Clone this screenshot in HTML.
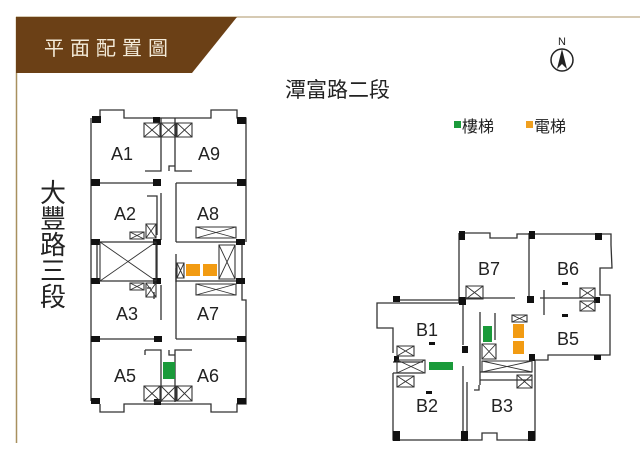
<!DOCTYPE html>
<html><head><meta charset="utf-8"><style>
html,body{margin:0;padding:0;background:#fff;}
svg{display:block;}
text{font-family:"Liberation Sans","Noto Sans CJK TC",sans-serif;}
</style></head><body>
<svg width="640" height="463" viewBox="0 0 640 463" xmlns="http://www.w3.org/2000/svg">
<defs>
<g id="xb"><rect x="0" y="0" width="1" height="1" fill="none" stroke="#333" stroke-width="1.1" vector-effect="non-scaling-stroke"/><path d="M0 0L1 1M1 0L0 1" stroke="#333" stroke-width="0.9" vector-effect="non-scaling-stroke"/></g>
</defs>
<!-- frame -->
<line x1="16" y1="17" x2="640" y2="17" stroke="#c9b89a" stroke-width="1.5"/>
<line x1="16.5" y1="17" x2="16.5" y2="443" stroke="#a8905f" stroke-width="1.5"/>
<polygon points="16,17 237,17 192,73 16,73" fill="#6b4016"/>
<text x="44" y="55" font-size="20" fill="#f3ead8" letter-spacing="6" font-family="Noto Sans CJK TC, sans-serif">平面配置圖</text>

<!-- road labels -->
<text x="285" y="97" font-size="21" fill="#222">潭富路二段</text>
<g font-size="26" fill="#222" text-anchor="middle">
<text x="53" y="202">大</text><text x="53" y="228">豐</text><text x="53" y="254">路</text><text x="53" y="280">三</text><text x="53" y="306">段</text>
</g>
<!-- legend -->
<rect x="454" y="121" width="7" height="7" fill="#1a9a3a"/>
<text x="462" y="132" font-size="16" fill="#222">樓梯</text>
<rect x="526" y="121" width="7" height="7" fill="#f0a020"/>
<text x="534" y="132" font-size="16" fill="#222">電梯</text>
<!-- north -->
<text x="562" y="45" font-size="11" fill="#222" text-anchor="middle">N</text>
<circle cx="562" cy="60" r="11" fill="none" stroke="#222" stroke-width="1.5"/>
<polygon points="562,49 557,69 562,64 567,69" fill="#222"/>

<!-- Building A -->
<g fill="none" stroke="#333" stroke-width="1.3">
<path d="M91 118 L91 401 M100 404 L100 412 L124 412 L124 404 L211 404 L211 412 L237 412 L237 404 L246 404 L246 300 L242 300 L242 242 M246 242 L246 118 L237 118 L237 110 L211 110 L211 118 L124 118 L124 110 L100 110 L100 118"/>
<path d="M91 183 L157 183 M91 242 L157 242 M91 281 L157 281 M91 339 L157 339 M176 183 L246 183 M176 339 L246 339"/>
<path d="M161 118 L161 171 L145 171 M175 118 L175 171 L192 171 M169 171 L169 166 L175 166"/>
<path d="M176 183 L176 242 M176 268 L176 339 M161 193 L161 240 M161 285 L161 320 M97 242 L97 281 M157 242 L157 283"/>
<path d="M176 242 L236 242 M176 254 L176 282 M176 281 L236 281"/>
<path d="M145 350 L145 355 M145 350 L161 350 L161 402 M175 402 L175 350 L192 350 M169 350 L169 355 L175 355"/>
<path d="M147 196 L157 196 L157 235 M147 288 L151 288 M154 299 L154 292"/>
</g>
<rect x="92" y="116" width="9" height="7" fill="#111"/><rect x="153" y="117" width="7" height="6" fill="#111"/><rect x="237" y="117" width="9" height="7" fill="#111"/>
<rect x="91" y="179" width="9" height="7" fill="#111"/><rect x="153" y="179" width="8" height="7" fill="#111"/><rect x="237" y="179" width="9" height="7" fill="#111"/>
<rect x="91" y="239" width="9" height="6" fill="#111"/><rect x="153" y="239" width="8" height="6" fill="#111"/><rect x="236" y="239" width="9" height="6" fill="#111"/>
<rect x="91" y="278" width="9" height="6" fill="#111"/><rect x="153" y="278" width="8" height="6" fill="#111"/><rect x="236" y="278" width="9" height="6" fill="#111"/>
<rect x="91" y="336" width="9" height="6" fill="#111"/><rect x="154" y="336" width="8" height="6" fill="#111"/><rect x="237" y="336" width="9" height="6" fill="#111"/>
<rect x="91" y="398" width="9" height="6" fill="#111"/><rect x="154" y="399" width="7" height="6" fill="#111"/><rect x="237" y="398" width="9" height="6" fill="#111"/>
<use href="#xb" transform="translate(144,123) scale(16,14)"/><use href="#xb" transform="translate(161,123) scale(15,14)"/><use href="#xb" transform="translate(177,123) scale(15,14)"/>
<use href="#xb" transform="translate(144,386) scale(16,15)"/><use href="#xb" transform="translate(161,386) scale(15,15)"/><use href="#xb" transform="translate(177,386) scale(15,15)"/>
<use href="#xb" transform="translate(100,242) scale(56,39)"/>
<use href="#xb" transform="translate(196,227) scale(40,11)"/>
<use href="#xb" transform="translate(219,245) scale(16,34)"/>
<use href="#xb" transform="translate(196,284) scale(40,11)"/>
<use href="#xb" transform="translate(146,224) scale(10,14)"/><use href="#xb" transform="translate(130,232) scale(14,7)"/>
<use href="#xb" transform="translate(146,283) scale(10,14)"/><use href="#xb" transform="translate(130,283) scale(14,7)"/>
<use href="#xb" transform="translate(177,263) scale(7,15)"/>
<rect x="186" y="264" width="14" height="12" fill="#f29b12"/><rect x="203" y="264" width="14" height="12" fill="#f29b12"/>
<rect x="163" y="362" width="12" height="17" fill="#1a9a3a"/>
<g font-size="18" fill="#222" text-anchor="middle">
<text x="122" y="160">A1</text><text x="209" y="160">A9</text>
<text x="125" y="220">A2</text><text x="208" y="220">A8</text>
<text x="127" y="320">A3</text><text x="208" y="320">A7</text>
<text x="125" y="382">A5</text><text x="208" y="382">A6</text>
</g>

<!-- Building B -->
<g fill="none" stroke="#333" stroke-width="1.3">
<path d="M459 233 L490 233 L490 238 L517 238 L517 234 L611 234 L611 245 L612 268 L600 268 L600 295 L610 295 L610 355 L548 355 L548 360 L535 360 L535 440 L497 440 L497 433 L482 433 L482 440 L393 440 L393 373 M393 353 L393 328 L377 328 L377 303 L459 303 L459 233"/>
<path d="M395 300 L459 300 M459 303 L459 298"/>
<path d="M529 233 L529 300 M459 298 L515 298 M544 290 L544 315 M540 298 L598 298 M463 303 L463 345 M463 366 L463 440 M532 355 L532 360"/>
<path d="M480 312 L480 372 L532 372 M495 313 L495 340 M480 380 L532 380 M480 372 L480 385 M479 385 L479 390 L474 390 M467 382 L467 440"/>
<path d="M393 362 L423 362 M393 373 L423 373"/>
</g>
<rect x="459" y="231" width="6" height="9" fill="#111"/><rect x="529" y="231" width="6" height="8" fill="#111"/><rect x="595" y="233" width="7" height="7" fill="#111"/>
<rect x="393" y="296" width="7" height="6" fill="#111"/><rect x="459" y="297" width="7" height="8" fill="#111"/><rect x="527" y="296" width="7" height="7" fill="#111"/><rect x="594" y="297" width="6" height="6" fill="#111"/>
<rect x="462" y="346" width="6" height="7" fill="#111"/><rect x="529" y="354" width="6" height="7" fill="#111"/><rect x="594" y="355" width="7" height="5" fill="#111"/>
<rect x="394" y="356" width="5" height="6" fill="#111"/>
<rect x="393" y="431" width="7" height="10" fill="#111"/><rect x="461" y="431" width="7" height="10" fill="#111"/><rect x="528" y="431" width="7" height="10" fill="#111"/>
<rect x="429" y="342" width="6" height="3" fill="#111"/><rect x="562" y="282" width="6" height="3" fill="#111"/><rect x="562" y="314" width="6" height="3" fill="#111"/><rect x="426" y="391" width="6" height="3" fill="#111"/>
<use href="#xb" transform="translate(466,286) scale(17,13)"/>
<use href="#xb" transform="translate(580,288) scale(15,10)"/><use href="#xb" transform="translate(580,301) scale(15,10)"/>
<use href="#xb" transform="translate(397,346) scale(17,10)"/>
<use href="#xb" transform="translate(397,360) scale(28,13)"/>
<use href="#xb" transform="translate(397,376) scale(17,11)"/>
<use href="#xb" transform="translate(482,344) scale(14,15)"/>
<use href="#xb" transform="translate(482,361) scale(50,11)"/>
<use href="#xb" transform="translate(512,315) scale(15,7)"/>
<use href="#xb" transform="translate(517,375) scale(15,13)"/>
<rect x="429" y="362" width="24" height="8" fill="#1a9a3a"/>
<rect x="483" y="326" width="9" height="16" fill="#1a9a3a"/>
<rect x="513" y="324" width="11" height="14" fill="#f29b12"/><rect x="513" y="341" width="11" height="13" fill="#f29b12"/>
<g font-size="18" fill="#222" text-anchor="middle">
<text x="489" y="275">B7</text><text x="568" y="275">B6</text>
<text x="427" y="336">B1</text><text x="568" y="345">B5</text>
<text x="427" y="412">B2</text><text x="502" y="412">B3</text>
</g>
</svg>
</body></html>
